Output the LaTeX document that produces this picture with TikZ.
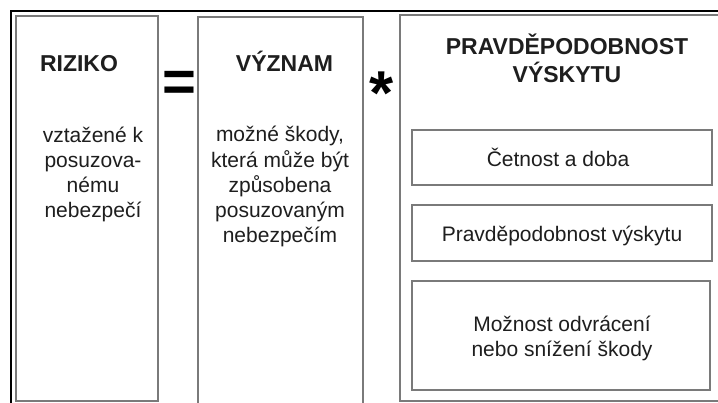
\documentclass[tikz,border=0pt]{standalone}
\usepackage{fontspec}
\setmainfont{Liberation Sans}
\definecolor{boxgray}{RGB}{122,122,122}
\definecolor{ink}{RGB}{30,30,30}
\tikzset{
  frameline/.style={draw=black, line width=2.2pt},
  boxline/.style={draw=boxgray, line width=1.8pt},
  head/.style={anchor=base, align=center, text=ink, inner sep=0pt,
    font=\fontsize{23}{28}\selectfont\bfseries},
  body/.style={anchor=base, align=center, text=ink, inner sep=0pt,
    font=\fontsize{21}{25.3}\selectfont},
  opsym/.style={anchor=base, text=black, inner sep=0pt}
}
\begin{document}
\begin{tikzpicture}[x=1pt, y=-1pt]
  \useasboundingbox (0,0) rectangle (718,403);
  \fill[white] (0,0) rectangle (718,403);

  % outer frame (runs off the right and bottom edges)
  \draw[frameline] (11,403) -- (11,11) -- (718,11);

  % three main columns
  \draw[boxline] (16,16) rectangle (158,401);
  \draw[boxline] (198,403) -- (198,17) -- (363,17) -- (363,403);
  \draw[boxline] (718,15) -- (400,15) -- (400,401) -- (718,401);

  % sub-boxes of the probability column
  \draw[boxline] (412,130) rectangle (712,185);
  \draw[boxline] (412,205) rectangle (712,261);
  \draw[boxline] (412,281) rectangle (710,390);

  % column headings (multi-line nodes are placed by their last baseline)
  \node[head] (riziko) at (79,72) {RIZIKO};
  \node[head] (vyznam) at (284.5,72) {VÝZNAM};
  \node[head] (pravd) at (567,83) {PRAVDĚPODOBNOST\\VÝSKYTU};

  % column texts
  \node[body] (rizikotxt) at (93,218)
    {vztažené k\\posuzova-\\nému\\nebezpečí};
  \node[body] (vyznamtxt) at (280,243)
    {možné škody,\\která může být\\způsobena\\posuzovaným\\nebezpečím};

  % sub-box texts
  \node[body] (cetnost) at (558,167) {Četnost a doba};
  \node[body] (vyskyt) at (562,242) {Pravděpodobnost výskytu};
  \node[body] (moznost) at (562,357) {Možnost odvrácení\\nebo snížení škody};

  % operators
  \node[opsym, font=\fontsize{58}{58}\selectfont\bfseries] (eq) at (179,102) {=};
  \node[opsym, font=\fontsize{62}{62}\selectfont\bfseries] (times) at (382,115) {*};
\end{tikzpicture}
\end{document}
